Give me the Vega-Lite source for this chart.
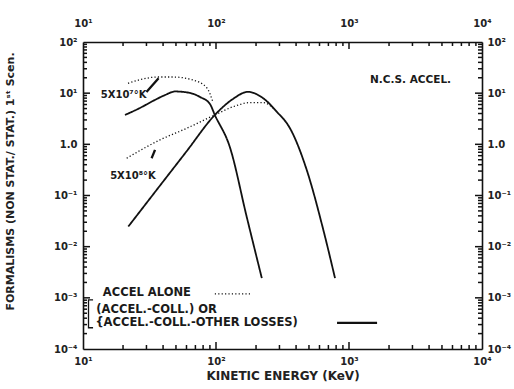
{
  "$schema": "https://vega.github.io/schema/vega-lite/v6.json",
  "width": 399,
  "height": 307,
  "autosize": "none",
  "padding": {"left": 83, "top": 42, "right": 32, "bottom": 40},
  "config": {
    "axis": {"grid": false, "domainColor": "#111", "domainWidth": 1.6}
  },
  "datasets": {
    "curves": [
      {"series": "A", "style": "solid", "E": 20.7, "R": 3.75},
      {"series": "A", "style": "solid", "E": 26.8, "R": 5.14},
      {"series": "A", "style": "solid", "E": 34.7, "R": 7.36},
      {"series": "A", "style": "solid", "E": 41.4, "R": 9.2},
      {"series": "A", "style": "solid", "E": 49.2, "R": 10.8},
      {"series": "A", "style": "solid", "E": 63.8, "R": 10.1},
      {"series": "A", "style": "solid", "E": 76, "R": 8.4},
      {"series": "A", "style": "solid", "E": 90, "R": 6.15},
      {"series": "A", "style": "solid", "E": 98, "R": 3.75},
      {"series": "A", "style": "solid", "E": 127, "R": 0.89},
      {"series": "A", "style": "solid", "E": 170, "R": 0.0387},
      {"series": "A", "style": "solid", "E": 221, "R": 0.00243},
      {"series": "B", "style": "solid", "E": 21.9, "R": 0.0247},
      {"series": "B", "style": "solid", "E": 35.9, "R": 0.13},
      {"series": "B", "style": "solid", "E": 59.7, "R": 0.714},
      {"series": "B", "style": "solid", "E": 98, "R": 3.75},
      {"series": "B", "style": "solid", "E": 134, "R": 7.7},
      {"series": "B", "style": "solid", "E": 174, "R": 10.6},
      {"series": "B", "style": "solid", "E": 225, "R": 8.05},
      {"series": "B", "style": "solid", "E": 286, "R": 4.36},
      {"series": "B", "style": "solid", "E": 360, "R": 2.06},
      {"series": "B", "style": "solid", "E": 481, "R": 0.316},
      {"series": "B", "style": "solid", "E": 641, "R": 0.0213},
      {"series": "B", "style": "solid", "E": 785, "R": 0.00243},
      {"series": "Ad", "style": "dot", "E": 21.8, "R": 15.6},
      {"series": "Ad", "style": "dot", "E": 28.2, "R": 18.9},
      {"series": "Ad", "style": "dot", "E": 36, "R": 20.7},
      {"series": "Ad", "style": "dot", "E": 47.5, "R": 20.7},
      {"series": "Ad", "style": "dot", "E": 67.1, "R": 18.1},
      {"series": "Ad", "style": "dot", "E": 85.5, "R": 12.6},
      {"series": "Ad", "style": "dot", "E": 94.8, "R": 6.73},
      {"series": "Bd", "style": "dot", "E": 21.3, "R": 0.536},
      {"series": "Bd", "style": "dot", "E": 37.9, "R": 1.22},
      {"series": "Bd", "style": "dot", "E": 60.3, "R": 2.06},
      {"series": "Bd", "style": "dot", "E": 98, "R": 3.75},
      {"series": "Bd", "style": "dot", "E": 135, "R": 5.45},
      {"series": "Bd", "style": "dot", "E": 180, "R": 6.53},
      {"series": "Bd", "style": "dot", "E": 227, "R": 6.53},
      {"series": "Bd", "style": "dot", "E": 270, "R": 5.07},
      {"series": "Ldot", "style": "dot", "E": 98, "R": 0.0012},
      {"series": "Ldot", "style": "dot", "E": 187, "R": 0.0012},
      {"series": "Lsolid", "style": "thin", "E": 813, "R": 0.000325},
      {"series": "Lsolid", "style": "thin", "E": 1626, "R": 0.000325},
      {"series": "arr1", "style": "thin", "E": 30, "R": 10.5},
      {"series": "arr1", "style": "thin", "E": 37, "R": 19.5},
      {"series": "arr2", "style": "thin", "E": 32.8, "R": 0.536},
      {"series": "arr2", "style": "thin", "E": 34.8, "R": 0.778}
    ],
    "bracket": [
      {"i": 1, "E": 11.9, "R": 0.00091},
      {"i": 2, "E": 11.0, "R": 0.00091},
      {"i": 3, "E": 11.0, "R": 0.00026},
      {"i": 4, "E": 11.9, "R": 0.00026}
    ],
    "labels": [
      {"label": "N.C.S. ACCEL.", "E": 1439, "R": 18.1, "size": 10.5},
      {"label": "5X10⁷°K", "E": 13.6, "R": 9.2, "size": 10},
      {"label": "5X10⁸°K", "E": 16, "R": 0.24, "size": 10},
      {"label": "ACCEL ALONE", "E": 14.1, "R": 0.00125, "size": 11.5},
      {"label": "(ACCEL.-COLL.) OR", "E": 12.6, "R": 0.000583, "size": 11.5},
      {"label": "{ACCEL.-COLL.-OTHER LOSSES)", "E": 12.4, "R": 0.000325, "size": 11.5}
    ],
    "xticks": [
      {"E": 20, "major": false}, {"E": 30, "major": false}, {"E": 40, "major": false}, {"E": 50, "major": false},
      {"E": 60, "major": false}, {"E": 70, "major": false}, {"E": 80, "major": false}, {"E": 90, "major": false},
      {"E": 100, "major": true},
      {"E": 200, "major": false}, {"E": 300, "major": false}, {"E": 400, "major": false}, {"E": 500, "major": false},
      {"E": 600, "major": false}, {"E": 700, "major": false}, {"E": 800, "major": false}, {"E": 900, "major": false},
      {"E": 1000, "major": true},
      {"E": 2000, "major": false}, {"E": 3000, "major": false}, {"E": 4000, "major": false}, {"E": 5000, "major": false},
      {"E": 6000, "major": false}, {"E": 7000, "major": false}, {"E": 8000, "major": false}, {"E": 9000, "major": false}
    ],
    "yticks": [
      {"R": 0.0002, "major": false}, {"R": 0.0003, "major": false}, {"R": 0.0004, "major": false}, {"R": 0.0005, "major": false},
      {"R": 0.0006, "major": false}, {"R": 0.0007, "major": false}, {"R": 0.0008, "major": false}, {"R": 0.0009, "major": false},
      {"R": 0.001, "major": true},
      {"R": 0.002, "major": false}, {"R": 0.003, "major": false}, {"R": 0.004, "major": false}, {"R": 0.005, "major": false},
      {"R": 0.006, "major": false}, {"R": 0.007, "major": false}, {"R": 0.008, "major": false}, {"R": 0.009, "major": false},
      {"R": 0.01, "major": true},
      {"R": 0.02, "major": false}, {"R": 0.03, "major": false}, {"R": 0.04, "major": false}, {"R": 0.05, "major": false},
      {"R": 0.06, "major": false}, {"R": 0.07, "major": false}, {"R": 0.08, "major": false}, {"R": 0.09, "major": false},
      {"R": 0.1, "major": true},
      {"R": 0.2, "major": false}, {"R": 0.3, "major": false}, {"R": 0.4, "major": false}, {"R": 0.5, "major": false},
      {"R": 0.6, "major": false}, {"R": 0.7, "major": false}, {"R": 0.8, "major": false}, {"R": 0.9, "major": false},
      {"R": 1, "major": true},
      {"R": 2, "major": false}, {"R": 3, "major": false}, {"R": 4, "major": false}, {"R": 5, "major": false},
      {"R": 6, "major": false}, {"R": 7, "major": false}, {"R": 8, "major": false}, {"R": 9, "major": false},
      {"R": 10, "major": true},
      {"R": 20, "major": false}, {"R": 30, "major": false}, {"R": 40, "major": false}, {"R": 50, "major": false},
      {"R": 60, "major": false}, {"R": 70, "major": false}, {"R": 80, "major": false}, {"R": 90, "major": false}
    ]
  },
  "layer": [
    {
      "data": {"name": "curves"},
      "mark": {"type": "line", "color": "#111", "interpolate": "monotone"},
      "encoding": {
        "x": {
          "field": "E", "type": "quantitative",
          "scale": {"type": "log", "domain": [10, 10000], "nice": false},
          "axis": {
            "orient": "bottom",
            "ticks": false,
            "title": "KINETIC ENERGY (KeV)",
            "titleFont": "DejaVu Sans", "titleFontWeight": "bold", "titleColor": "#222",
            "titleFontSize": 12,
            "titlePadding": 4,
            "values": [10, 100, 1000, 10000],
            "labelExpr": "datum.value==10?'10¹':datum.value==100?'10²':datum.value==1000?'10³':'10⁴'",
            "labelFont": "DejaVu Sans", "labelFontWeight": "bold", "labelFontSize": 10, "labelColor": "#222", "labelOverlap": false, "labelFlush": false,
            "labelPadding": 7
          }
        },
        "y": {
          "field": "R", "type": "quantitative",
          "scale": {"type": "log", "domain": [0.0001, 100], "nice": false},
          "axis": {
            "orient": "left",
            "ticks": false,
            "title": "FORMALISMS (NON STAT./ STAT.) 1ˢᵗ Scen.",
            "titleFont": "DejaVu Sans", "titleFontWeight": "bold", "titleColor": "#222",
            "titleFontSize": 11,
            "titleX": -68,
            "titleY": 139,
            "values": [0.0001, 0.001, 0.01, 0.1, 1, 10, 100],
            "labelExpr": "datum.value==100?'10²':datum.value==10?'10¹':datum.value==1?'1.0':datum.value==0.1?'10⁻¹':datum.value==0.01?'10⁻²':datum.value==0.001?'10⁻³':'10⁻⁴'",
            "labelFont": "DejaVu Sans", "labelFontWeight": "bold", "labelFontSize": 10, "labelColor": "#222", "labelOverlap": false, "labelFlush": false,
            "labelPadding": 6
          }
        },
        "detail": {"field": "series"},
        "strokeDash": {"field": "style", "type": "nominal", "scale": {"domain": ["dot", "solid", "thin"], "range": [[1.2, 2.2], [1, 0], [1, 0]]}, "legend": null},
        "strokeWidth": {"field": "style", "type": "nominal", "scale": {"domain": ["dot", "solid", "thin"], "range": [1.3, 2.3, 1.3]}, "legend": null}
      }
    },
    {
      "data": {"name": "curves"},
      "mark": {"type": "line", "opacity": 0},
      "encoding": {
        "x": {
          "field": "E", "type": "quantitative",
          "scale": {"type": "log", "domain": [10, 10000], "nice": false},
          "axis": {
            "orient": "top",
            "ticks": false,
            "title": null,
            "values": [10, 100, 1000, 10000],
            "labelExpr": "datum.value==10?'10¹':datum.value==100?'10²':datum.value==1000?'10³':'10⁴'",
            "labelFont": "DejaVu Sans", "labelFontWeight": "bold", "labelFontSize": 10, "labelColor": "#222", "labelOverlap": false, "labelFlush": false,
            "labelPadding": 14
          }
        },
        "y": {
          "field": "R", "type": "quantitative",
          "scale": {"type": "log", "domain": [0.0001, 100], "nice": false},
          "axis": {
            "orient": "right",
            "ticks": false,
            "title": null,
            "values": [0.0001, 0.001, 0.01, 0.1, 1, 10, 100],
            "labelExpr": "datum.value==100?'10²':datum.value==10?'10¹':datum.value==1?'1.0':datum.value==0.1?'10⁻¹':datum.value==0.01?'10⁻²':datum.value==0.001?'10⁻³':'10⁻⁴'",
            "labelFont": "DejaVu Sans", "labelFontWeight": "bold", "labelFontSize": 10, "labelColor": "#222", "labelOverlap": false, "labelFlush": false,
            "labelPadding": 5
          }
        },
        "detail": {"field": "series"}
      }
    },
    {
      "data": {"name": "bracket"},
      "mark": {"type": "line", "color": "#111", "strokeWidth": 1.3},
      "encoding": {
        "x": {"field": "E", "type": "quantitative", "scale": {"type": "log", "domain": [10, 10000], "nice": false}, "axis": null},
        "y": {"field": "R", "type": "quantitative", "scale": {"type": "log", "domain": [0.0001, 100], "nice": false}, "axis": null},
        "order": {"field": "i", "type": "quantitative"}
      }
    },
    {
      "data": {"name": "labels"},
      "mark": {"type": "text", "align": "left", "baseline": "middle", "font": "DejaVu Sans", "fontWeight": "bold", "color": "#1a1a1a"},
      "encoding": {
        "x": {"field": "E", "type": "quantitative", "scale": {"type": "log", "domain": [10, 10000], "nice": false}, "axis": null},
        "y": {"field": "R", "type": "quantitative", "scale": {"type": "log", "domain": [0.0001, 100], "nice": false}, "axis": null},
        "text": {"field": "label"},
        "size": {"field": "size", "type": "quantitative", "scale": null}
      }
    },
    {
      "data": {"name": "xticks"},
      "transform": [{"filter": "datum.major"}],
      "mark": {"type": "tick", "orient": "vertical", "color": "#111", "opacity": 1, "thickness": 1.5, "size": 7, "yOffset": -3.5},
      "encoding": {
        "x": {"field": "E", "type": "quantitative", "scale": {"type": "log", "domain": [10, 10000], "nice": false}, "axis": null},
        "y": {"datum": 0.0001, "type": "quantitative", "scale": {"type": "log", "domain": [0.0001, 100], "nice": false}, "axis": null}
      }
    },
    {
      "data": {"name": "xticks"},
      "transform": [{"filter": "!datum.major"}],
      "mark": {"type": "tick", "orient": "vertical", "color": "#111", "opacity": 1, "thickness": 1.5, "size": 4, "yOffset": -2},
      "encoding": {
        "x": {"field": "E", "type": "quantitative", "scale": {"type": "log", "domain": [10, 10000], "nice": false}, "axis": null},
        "y": {"datum": 0.0001, "type": "quantitative", "scale": {"type": "log", "domain": [0.0001, 100], "nice": false}, "axis": null}
      }
    },
    {
      "data": {"name": "xticks"},
      "transform": [{"filter": "datum.major"}],
      "mark": {"type": "tick", "orient": "vertical", "color": "#111", "opacity": 1, "thickness": 1.5, "size": 7, "yOffset": 3.5},
      "encoding": {
        "x": {"field": "E", "type": "quantitative", "scale": {"type": "log", "domain": [10, 10000], "nice": false}, "axis": null},
        "y": {"datum": 100, "type": "quantitative", "scale": {"type": "log", "domain": [0.0001, 100], "nice": false}, "axis": null}
      }
    },
    {
      "data": {"name": "xticks"},
      "transform": [{"filter": "!datum.major"}],
      "mark": {"type": "tick", "orient": "vertical", "color": "#111", "opacity": 1, "thickness": 1.5, "size": 4, "yOffset": 2},
      "encoding": {
        "x": {"field": "E", "type": "quantitative", "scale": {"type": "log", "domain": [10, 10000], "nice": false}, "axis": null},
        "y": {"datum": 100, "type": "quantitative", "scale": {"type": "log", "domain": [0.0001, 100], "nice": false}, "axis": null}
      }
    },
    {
      "data": {"name": "yticks"},
      "transform": [{"filter": "datum.major"}],
      "mark": {"type": "tick", "orient": "horizontal", "color": "#111", "opacity": 1, "thickness": 1.5, "size": 7, "xOffset": 3.5},
      "encoding": {
        "y": {"field": "R", "type": "quantitative", "scale": {"type": "log", "domain": [0.0001, 100], "nice": false}, "axis": null},
        "x": {"datum": 10, "type": "quantitative", "scale": {"type": "log", "domain": [10, 10000], "nice": false}, "axis": null}
      }
    },
    {
      "data": {"name": "yticks"},
      "transform": [{"filter": "!datum.major"}],
      "mark": {"type": "tick", "orient": "horizontal", "color": "#111", "opacity": 1, "thickness": 1.5, "size": 4, "xOffset": 2},
      "encoding": {
        "y": {"field": "R", "type": "quantitative", "scale": {"type": "log", "domain": [0.0001, 100], "nice": false}, "axis": null},
        "x": {"datum": 10, "type": "quantitative", "scale": {"type": "log", "domain": [10, 10000], "nice": false}, "axis": null}
      }
    },
    {
      "data": {"name": "yticks"},
      "transform": [{"filter": "datum.major"}],
      "mark": {"type": "tick", "orient": "horizontal", "color": "#111", "opacity": 1, "thickness": 1.5, "size": 7, "xOffset": -3.5},
      "encoding": {
        "y": {"field": "R", "type": "quantitative", "scale": {"type": "log", "domain": [0.0001, 100], "nice": false}, "axis": null},
        "x": {"datum": 10000, "type": "quantitative", "scale": {"type": "log", "domain": [10, 10000], "nice": false}, "axis": null}
      }
    },
    {
      "data": {"name": "yticks"},
      "transform": [{"filter": "!datum.major"}],
      "mark": {"type": "tick", "orient": "horizontal", "color": "#111", "opacity": 1, "thickness": 1.5, "size": 4, "xOffset": -2},
      "encoding": {
        "y": {"field": "R", "type": "quantitative", "scale": {"type": "log", "domain": [0.0001, 100], "nice": false}, "axis": null},
        "x": {"datum": 10000, "type": "quantitative", "scale": {"type": "log", "domain": [10, 10000], "nice": false}, "axis": null}
      }
    }
  ],
  "resolve": {"axis": {"x": "independent", "y": "independent"}}
}
